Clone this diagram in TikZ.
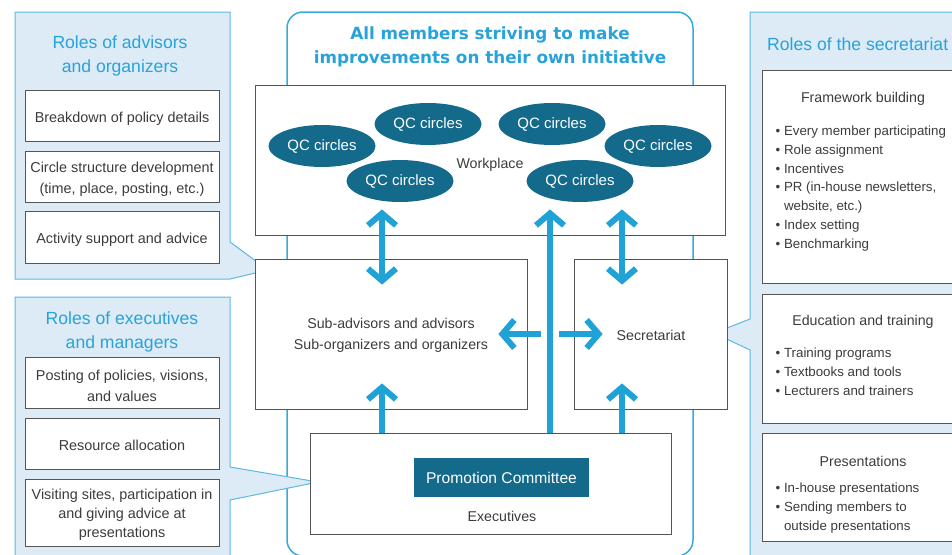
\documentclass[tikz,border=0pt]{standalone}
\usepackage{fontspec}
\setmainfont{Liberation Sans}
\newfontfamily\titlefont{DejaVu Sans}
\usetikzlibrary{arrows.meta,shapes.geometric}
\definecolor{panelfill}{HTML}{DCEBF6}
\definecolor{panelline}{HTML}{5CB8E4}
\definecolor{titleblue}{HTML}{28A3DA}
\definecolor{arrowblue}{HTML}{1FA2D6}
\definecolor{qcteal}{HTML}{136A8B}
\definecolor{boxline}{HTML}{555555}
\definecolor{txt}{HTML}{3C3C3C}
\definecolor{frameline}{HTML}{38A9DD}
\tikzset{
  panel/.style={fill=panelfill,draw=panelline,line width=1pt},
  roletitle/.style={text=titleblue,align=center,font=\fontsize{17.6}{24}\selectfont},
  rolebox/.style={draw=boxline,fill=white,line width=0.8pt,minimum width=194pt,inner sep=0pt},
  roletext/.style={text=txt,align=center,font=\fontsize{14.4}{21}\selectfont,yshift=-3pt},
  orgbox/.style={draw=boxline,fill=white,line width=0.8pt,inner sep=0pt},
  lbl/.style={text=txt,align=center,font=\fontsize{14.2}{21}\selectfont},
  qc/.style={ellipse,fill=qcteal,minimum width=107pt,minimum height=42pt,inner sep=0pt,text=white,font=\fontsize{15}{18}\selectfont},
  bulletlist/.style={text=txt,align=left,anchor=north west,inner sep=0pt,font=\fontsize{13.3}{18.7}\selectfont},
  bigarr/.style={draw=arrowblue,line width=6pt,>={Straight Barb[length=12pt,width=28pt]}},
}
\newcommand{\bul}{\textbullet\ }
\newcommand{\bulsp}{\hphantom{\textbullet\ }}
\begin{document}
\begin{tikzpicture}[x=1pt,y=-1pt]
\useasboundingbox (0,0) rectangle (952,554);
\clip (0,0) rectangle (952,554);

% central frame
\draw[frameline,line width=1.5pt,rounded corners=16pt] (287,12) rectangle (693,556);
\node[text=titleblue,align=center,font=\titlefont\bfseries\fontsize{16.8}{24}\selectfont] (ttl) at (490,47)
  {All members striving to make\\improvements on their own initiative};

% left panels
\draw[panel] (15,12) -- (230,12) -- (230,242) -- (268,270) -- (230,279) -- (15,279) -- cycle;
\draw[panel] (15,297) -- (230,297) -- (230,467) -- (318,482) -- (230,500) -- (230,570) -- (15,570) -- cycle;
% right panel
\draw[panel] (750,12) -- (970,12) -- (970,570) -- (750,570) -- (750,350) -- (714,333) -- (750,319) -- cycle;

\node[roletitle] (t1) at (120,56) {Roles of advisors\\and organizers};
\node[rolebox,minimum height=51pt] (a1) at (122,116) {};
\node[roletext] (a1t) at (a1.center) {Breakdown of policy details};
\node[rolebox,minimum height=51pt] (a2) at (122,176.5) {};
\node[roletext] (a2t) at (a2.center) {Circle structure development\\(time, place, posting, etc.)};
\node[rolebox,minimum height=52pt] (a3) at (122,237) {};
\node[roletext] (a3t) at (a3.center) {Activity support and advice};

\node[roletitle] (t2) at (122,332) {Roles of executives\\and managers};
\node[rolebox,minimum height=51pt] (b1) at (122,382.5) {};
\node[roletext] (b1t) at (b1.center) {Posting of policies, visions,\\and values};
\node[rolebox,minimum height=51pt] (b2) at (122,443.5) {};
\node[roletext,yshift=1.5pt] (b2t) at (b2.center) {Resource allocation};
\node[rolebox,minimum height=67pt] (b3) at (122,512.5) {};
\node[roletext,font=\fontsize{14.4}{19}\selectfont,yshift=1pt] (b3t) at (b3.center) {Visiting sites, participation in\\and giving advice at\\presentations};

\node[roletitle,anchor=west,inner sep=0pt] (t3) at (767,44) {Roles of the secretariat};
\node[orgbox,minimum width=218pt,minimum height=213pt] (c1) at (871,176.5) {};
\node[orgbox,minimum width=218pt,minimum height=129pt] (c2) at (871,358.5) {};
\node[orgbox,minimum width=218pt,minimum height=108pt] (c3) at (871,487) {};
\node[lbl] (h1) at (863,99) {Framework building};
\node[bulletlist] (l1) at (775.5,126) {\bul Every member participating\\\bul Role assignment\\\bul Incentives\\\bul PR (in-house newsletters,\\\bulsp website, etc.)\\\bul Index setting\\\bul Benchmarking};
\node[lbl] (h2) at (863,322) {Education and training};
\node[bulletlist] (l2) at (775.5,348) {\bul Training programs\\\bul Textbooks and tools\\\bul Lecturers and trainers};
\node[lbl] (h3) at (863,461) {Presentations};
\node[bulletlist] (l3) at (775.5,483) {\bul In-house presentations\\\bul Sending members to\\\bulsp outside presentations};

% workplace
\node[orgbox,minimum width=470pt,minimum height=150pt] (wp) at (490,160) {};
\node[lbl] (wpl) at (490,165) {Workplace};
\node[qc] (q1) at (322,146) {QC circles};
\node[qc] (q2) at (428,124) {QC circles};
\node[qc] (q3) at (400,181) {QC circles};
\node[qc] (q4) at (552,124) {QC circles};
\node[qc] (q5) at (658,146) {QC circles};
\node[qc] (q6) at (580,181) {QC circles};

\node[orgbox,minimum width=272pt,minimum height=150pt] (sub) at (391,334) {};
\node[lbl] (subl) at (391,335) {Sub-advisors and advisors\\Sub-organizers and organizers};
\node[orgbox,minimum width=153pt,minimum height=150pt] (sec) at (650.5,334) {};
\node[lbl] (secl) at (651,335) {Secretariat};
\node[orgbox,minimum width=361pt,minimum height=101pt] (ex) at (490.5,483.5) {};
\node[fill=qcteal,text=white,minimum width=175pt,minimum height=39pt,inner sep=0pt,font=\fontsize{15.6}{18}\selectfont] (pc) at (501.5,477.5) {Promotion Committee};
\node[lbl] (exl) at (502,516) {Executives};

% arrows
\coordinate (xa) at (382,0);
\coordinate (xb) at (550,0);
\coordinate (xc) at (622,0);
\coordinate (ym) at (0,334);
\draw[bigarr,<->] ([yshift=26pt]wp.south -| xa) -- ([yshift=-26pt]sub.north -| xa);
\draw[bigarr,<->] ([yshift=26pt]wp.south -| xc) -- ([yshift=-26pt]sec.north -| xc);
\draw[bigarr,->] (ex.north -| xb) -- ([yshift=26pt]wp.south -| xb);
\draw[bigarr,->] ([xshift=-9pt]xb |- ym) -- ([xshift=-29pt]sub.east);
\draw[bigarr,->] ([xshift=9pt]xb |- ym) -- ([xshift=29pt]sec.west);
\draw[bigarr,->] (ex.north -| xa) -- ([yshift=26pt]sub.south -| xa);
\draw[bigarr,->] (ex.north -| xc) -- ([yshift=26pt]sec.south -| xc);
\end{tikzpicture}
\end{document}
